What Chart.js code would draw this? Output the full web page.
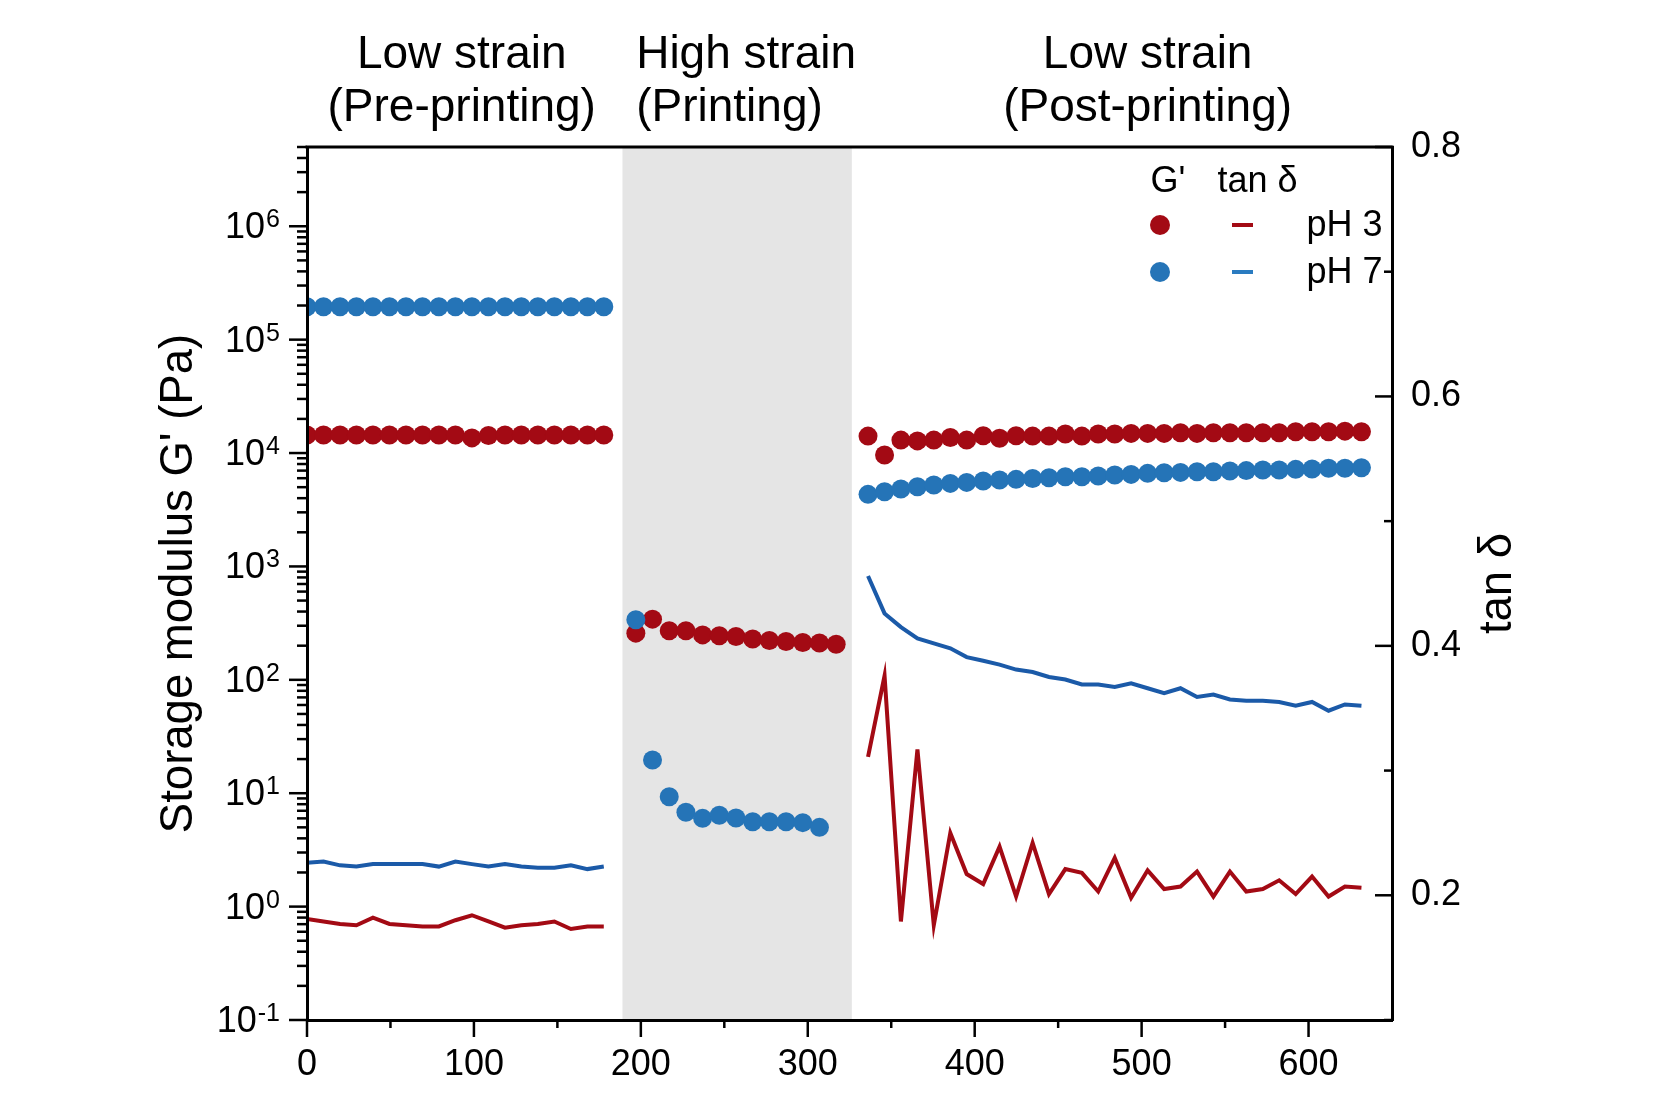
<!DOCTYPE html>
<html>
<head>
<meta charset="utf-8">
<script src="https://cdn.jsdelivr.net/npm/chart.js@4.4.1/dist/chart.umd.min.js"></script>
<style>
html,body{margin:0;padding:0;background:#fff;}
canvas{display:block;}
</style>
</head>
<body>
<canvas id="c" width="1666" height="1110"></canvas>
<script>
// ---------------- data ----------------
const timePre = [0, 9.9, 19.8, 29.6, 39.5, 49.4, 59.3, 69.2, 79.0, 88.9, 98.8, 108.7, 118.6, 128.4, 138.3, 148.2, 158.1, 168.0, 177.8];
const timePrint = [197, 207, 217, 227, 237, 247, 257, 267, 277, 287, 297, 307, 317];
const timePost = [336.1, 346.0, 355.8, 365.7, 375.5, 385.4, 395.2, 405.1, 414.9, 424.8, 434.7, 444.5, 454.3, 464.2, 474.0, 483.9, 493.7, 503.6, 513.5, 523.3, 533.2, 543.0, 552.9, 562.7, 572.6, 582.4, 592.3, 602.1, 612.0, 621.8, 631.7];

const gPrePH3 = [14400, 14400, 14400, 14400, 14400, 14400, 14400, 14400, 14400, 14400, 13600, 14300, 14400, 14400, 14400, 14400, 14400, 14400, 14400];
const gPrePH7 = [195000, 195000, 195000, 195000, 195000, 195000, 195000, 195000, 195000, 195000, 195000, 195000, 195000, 195000, 195000, 195000, 195000, 195000, 195000];
const gPrintPH3 = [258, 343, 271, 271, 249, 245, 241, 229, 222, 218, 213, 211, 206];
const gPrintPH7 = [339, 19.6, 9.3, 6.8, 6.0, 6.4, 6.05, 5.6, 5.6, 5.6, 5.5, 5.0];
const gPostPH3 = [14100, 9600, 13000, 12800, 13000, 13700, 13000, 14200, 13500, 14200, 14100, 14100, 14700, 14100, 14700, 14700, 14900, 14900, 14900, 15100, 14900, 15100, 15100, 15100, 15100, 15100, 15400, 15400, 15400, 15600, 15400];
const gPostPH7 = [4320, 4560, 4810, 5050, 5220, 5400, 5510, 5660, 5780, 5860, 5970, 6050, 6180, 6180, 6270, 6400, 6480, 6620, 6700, 6750, 6840, 6840, 6940, 7000, 7080, 7080, 7180, 7220, 7330, 7330, 7420];

const tanPrePH3 = [0.181, 0.179, 0.177, 0.176, 0.182, 0.177, 0.176, 0.175, 0.175, 0.180, 0.184, 0.179, 0.174, 0.176, 0.177, 0.179, 0.173, 0.175, 0.175];
const tanPrePH7 = [0.226, 0.227, 0.224, 0.223, 0.225, 0.225, 0.225, 0.225, 0.223, 0.227, 0.225, 0.223, 0.225, 0.223, 0.222, 0.222, 0.224, 0.221, 0.223];
const tanPostPH3 = [0.311, 0.376, 0.179, 0.317, 0.176, 0.250, 0.217, 0.209, 0.239, 0.199, 0.242, 0.201, 0.221, 0.218, 0.203, 0.230, 0.198, 0.220, 0.205, 0.207, 0.219, 0.199, 0.219, 0.203, 0.205, 0.212, 0.201, 0.215, 0.199, 0.207, 0.206];
const tanPostPH7 = [0.456, 0.426, 0.415, 0.406, 0.402, 0.398, 0.391, 0.388, 0.385, 0.381, 0.379, 0.375, 0.373, 0.369, 0.369, 0.367, 0.370, 0.366, 0.362, 0.366, 0.359, 0.361, 0.357, 0.356, 0.356, 0.355, 0.352, 0.355, 0.348, 0.353, 0.352];

const printingWindow = [189, 326.4];

// tick labels / tick values
const xMajorTicks = [0, 100, 200, 300, 400, 500, 600];
const xMinorTicks = [50, 150, 250, 350, 450, 550];
const gExponents = [-1, 0, 1, 2, 3, 4, 5, 6];
const gMinorMantissas = [2, 3, 4, 5, 6, 7, 8, 9];
const tanTicks = [0.1, 0.2, 0.3, 0.4, 0.5, 0.6, 0.7, 0.8];
const tanLabelled = ['0.2', '0.4', '0.6', '0.8'];

const regionTitles = [
  {lines: ['Low strain', '(Pre-printing)'], at: 92.7, align: 'center'},
  {lines: ['High strain', '(Printing)'], at: 197.2, align: 'left'},
  {lines: ['Low strain', '(Post-printing)'], at: 503.6, align: 'center'}
];
const legendRows = ['pH 3', 'pH 7'];

// ---------------- styling ----------------
const FONT = '"Liberation Sans", Arial, sans-serif';
const RED = '#a30a14';
const BLUE_DOT = '#2574b7';
const BLUE_LINE = '#1b5aa8';
const BLUE_LEG = '#2a7bc0';
const GRAY = '#e5e5e5';

const xy = (xs, ys) => ys.map((y, i) => ({x: xs[i], y: y}));
const withGap = (a, gapX, b) => a.concat([{x: gapX, y: null}], b);

const shadePlugin = {
  id: 'shade',
  beforeDatasetsDraw(chart) {
    const {ctx, chartArea: a, scales: {x}} = chart;
    const x0 = x.getPixelForValue(printingWindow[0]);
    const x1 = x.getPixelForValue(printingWindow[1]);
    ctx.save();
    ctx.fillStyle = GRAY;
    ctx.fillRect(x0, a.top, x1 - x0, a.bottom - a.top);
    ctx.restore();
  }
};

const decorPlugin = {
  id: 'decor',
  afterDraw(chart) {
    const {ctx, chartArea: a, scales: {x, y, y2}} = chart;
    ctx.save();
    ctx.strokeStyle = '#000';
    ctx.lineCap = 'butt';

    // top frame line
    ctx.lineWidth = 3;
    ctx.beginPath();
    ctx.moveTo(a.left - 1.5, a.top);
    ctx.lineTo(a.right + 1.5, a.top);
    ctx.stroke();

    ctx.lineWidth = 2.5;
    const seg = (x1, y1, x2, y2p) => { ctx.beginPath(); ctx.moveTo(x1, y1); ctx.lineTo(x2, y2p); ctx.stroke(); };
    // x ticks (outward)
    xMajorTicks.forEach(v => { const p = x.getPixelForValue(v); seg(p, a.bottom, p, a.bottom + 17); });
    xMinorTicks.forEach(v => { const p = x.getPixelForValue(v); seg(p, a.bottom, p, a.bottom + 8); });
    // left log ticks (outward)
    gExponents.forEach(e => {
      const p = y.getPixelForValue(Math.pow(10, e));
      seg(a.left - 18, p, a.left, p);
      gMinorMantissas.forEach(m => {
        const v = m * Math.pow(10, e);
        if (v <= y.max) {
          const q = y.getPixelForValue(v);
          seg(a.left - 10, q, a.left, q);
        }
      });
    });
    // right ticks (inward)
    tanTicks.forEach(v => {
      const p = y2.getPixelForValue(v);
      const major = tanLabelled.includes(v.toFixed(1));
      seg(a.right - (major ? 17 : 8), p, a.right, p);
    });

    // left tick labels 10^n
    ctx.fillStyle = '#000';
    gExponents.forEach(e => {
      const p = y.getPixelForValue(Math.pow(10, e));
      const ex = String(e);
      ctx.font = '25px ' + FONT;
      ctx.textAlign = 'right';
      ctx.textBaseline = 'alphabetic';
      const w = ctx.measureText(ex).width;
      ctx.fillText(ex, 280, p + 1);
      ctx.font = '36px ' + FONT;
      ctx.textBaseline = 'middle';
      ctx.fillText('10', 280 - w - 1, p + 2);
    });

    // axis titles
    ctx.font = '45.5px ' + FONT;
    ctx.textAlign = 'center';
    ctx.textBaseline = 'middle';
    const cy = (a.top + a.bottom) / 2;
    ctx.save();
    ctx.translate(179, cy);
    ctx.rotate(-Math.PI / 2);
    ctx.fillText("Storage modulus G' (Pa)", 0, 0);
    ctx.restore();
    ctx.save();
    ctx.translate(1498, cy);
    ctx.rotate(-Math.PI / 2);
    ctx.fillText('tan δ', 0, 0);
    ctx.restore();

    // region titles
    ctx.font = '46px ' + FONT;
    ctx.textBaseline = 'alphabetic';
    regionTitles.forEach(t => {
      ctx.textAlign = t.align;
      const px = x.getPixelForValue(t.at);
      ctx.fillText(t.lines[0], px, 68);
      ctx.fillText(t.lines[1], px, 121);
    });

    // legend
    ctx.font = '36px ' + FONT;
    ctx.textAlign = 'center';
    ctx.textBaseline = 'alphabetic';
    ctx.fillText("G'", 1168, 192);
    ctx.fillText('tan δ', 1257.5, 192);
    const rowsY = [225, 272];
    const dotCols = [RED, BLUE_DOT];
    const dashCols = [RED, BLUE_LEG];
    legendRows.forEach((lab, i) => {
      const ly = rowsY[i];
      ctx.fillStyle = dotCols[i];
      ctx.beginPath();
      ctx.arc(1160, ly, 10, 0, Math.PI * 2);
      ctx.fill();
      ctx.strokeStyle = dashCols[i];
      ctx.lineWidth = 4;
      seg(1232, ly, 1253, ly);
      ctx.fillStyle = '#000';
      ctx.textAlign = 'left';
      ctx.textBaseline = 'middle';
      ctx.fillText(lab, 1306.5, ly + 1);
    });
    ctx.restore();
  }
};

const ptStyle = (col) => ({
  backgroundColor: col, borderColor: col, pointRadius: 9.5, pointBorderWidth: 0,
  pointHoverRadius: 9.5, showLine: false, clip: 0
});
const lnStyle = (col) => ({
  type: 'line', borderColor: col, backgroundColor: col, borderWidth: 4, pointRadius: 0,
  tension: 0, spanGaps: false, borderJoinStyle: 'miter', fill: false, yAxisID: 'y2', clip: 0
});

new Chart(document.getElementById('c'), {
  type: 'scatter',
  data: {
    datasets: [
      Object.assign({label: "G' pH 7", data: xy(timePre, gPrePH7).concat(xy(timePrint, gPrintPH7), xy(timePost, gPostPH7)), yAxisID: 'y', order: 0}, ptStyle(BLUE_DOT)),
      Object.assign({label: "G' pH 3", data: xy(timePre, gPrePH3).concat(xy(timePrint, gPrintPH3), xy(timePost, gPostPH3)), yAxisID: 'y', order: 1}, ptStyle(RED)),
      Object.assign({label: 'tan δ pH 7', data: withGap(xy(timePre, tanPrePH7), 260, xy(timePost, tanPostPH7)), order: 2}, lnStyle(BLUE_LINE)),
      Object.assign({label: 'tan δ pH 3', data: withGap(xy(timePre, tanPrePH3), 260, xy(timePost, tanPostPH3)), order: 3}, lnStyle(RED))
    ]
  },
  options: {
    responsive: false,
    animation: false,
    devicePixelRatio: 1,
    events: [],
    layout: {padding: {top: 147, left: 0, right: 0, bottom: 0}},
    plugins: {legend: {display: false}, tooltip: {enabled: false}, title: {display: false}},
    scales: {
      x: {
        type: 'linear', position: 'bottom', min: 0, max: 650,
        grid: {display: false, drawTicks: false},
        border: {display: true, color: '#000', width: 3, z: 1},
        afterBuildTicks: s => { s.ticks = xMajorTicks.map(v => ({value: v})); },
        afterFit: s => { s.height = 90; },
        ticks: {
          color: '#000', padding: 23, autoSkip: false, maxRotation: 0,
          font: {family: FONT, size: 36},
          callback: v => String(v)
        }
      },
      y: {
        type: 'logarithmic', position: 'left', min: 0.1, max: 5e6,
        grid: {display: false, drawTicks: false},
        border: {display: true, color: '#000', width: 3, z: 1},
        afterFit: s => { s.width = 307; },
        ticks: {display: false}
      },
      y2: {
        type: 'linear', position: 'right', min: 0.1, max: 0.8,
        grid: {display: false, drawTicks: false},
        border: {display: true, color: '#000', width: 3, z: 1},
        afterBuildTicks: s => { s.ticks = tanTicks.map(v => ({value: v})); },
        afterFit: s => { s.width = 274; },
        ticks: {
          color: '#000', padding: 19, autoSkip: false,
          font: {family: FONT, size: 36},
          callback: v => (tanLabelled.includes(Number(v).toFixed(1)) ? Number(v).toFixed(1) : '')
        }
      }
    }
  },
  plugins: [shadePlugin, decorPlugin]
});
</script>
</body>
</html>
